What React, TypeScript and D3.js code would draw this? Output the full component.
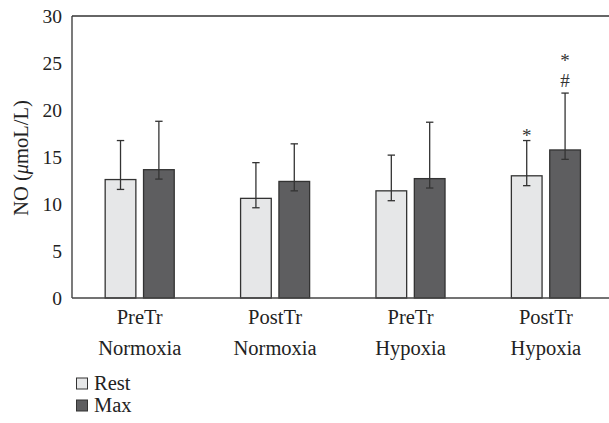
import React from "react";
import * as d3 from "d3";

const categories = [["PreTr", "Normoxia"], ["PostTr", "Normoxia"], ["PreTr", "Hypoxia"], ["PostTr", "Hypoxia"]];
const seriesNames = ["Rest", "Max"];
const restValues = [12.6, 10.6, 11.4, 13.0];
const restUpper = [16.75, 14.4, 15.2, 16.75];
const restLower = [11.55, 9.6, 10.35, 11.95];
const maxValues = [13.65, 12.4, 12.7, 15.75];
const maxUpper = [18.8, 16.4, 18.7, 21.8];
const maxLower = [12.65, 11.4, 11.7, 14.75];
const restMarks = ["", "", "", "*"];
const maxMarks = [[], [], [], ["*", "#"]];
const yTicks = [0, 5, 10, 15, 20, 25, 30];

const W = 609, H = 423;
const left = 72, right = 613.6, top = 16, bottom = 298;
const colors = ["#e6e7e8", "#5e5e60"];
const font = "'Liberation Serif', 'DejaVu Serif', serif";

export default function App() {
  const y = d3.scaleLinear().domain([0, 30]).range([bottom, top]);
  const x0 = d3.scaleBand().domain(categories.map((_, i) => String(i))).range([left, right]).paddingInner(0.49).paddingOuter(0.245);
  const x1 = d3.scaleBand().domain(seriesNames).range([0, x0.bandwidth()]).paddingInner(0.2);
  const series = [
    { vals: restValues, up: restUpper, lo: restLower },
    { vals: maxValues, up: maxUpper, lo: maxLower },
  ];
  return (
    <svg width={W} height={H} style={{ position: "absolute", left: 0, top: 0, background: "#fff", fontFamily: font }}>
      {yTicks.map((t) => (
        <text key={t} x={62} y={y(t)} dy="0.35em" textAnchor="end" fontSize={19.5} fill="#222">{t}</text>
      ))}
      <text transform={`translate(28,${(top + bottom) / 2 + 1}) rotate(-90)`} textAnchor="middle" fontSize={20.5} fill="#222">
        NO (<tspan fontStyle="italic">μ</tspan>moL/L)
      </text>
      {categories.map((c, i) => {
        const bx = x0(String(i))!;
        return (
          <g key={i}>
            {series.map((s, j) => {
              const xx = bx + x1(seriesNames[j])!;
              const bw = x1.bandwidth();
              const cx = xx + bw / 2;
              return (
                <g key={j}>
                  <rect x={xx} y={y(s.vals[i])} width={bw} height={y(0) - y(s.vals[i])} fill={colors[j]} stroke="#333" strokeWidth={1.3} />
                  <line x1={cx} x2={cx} y1={y(s.up[i])} y2={y(s.lo[i])} stroke="#333" strokeWidth={1.3} />
                  <line x1={cx - 3.7} x2={cx + 3.7} y1={y(s.up[i])} y2={y(s.up[i])} stroke="#333" strokeWidth={1.3} />
                  <line x1={cx - 3.7} x2={cx + 3.7} y1={y(s.lo[i])} y2={y(s.lo[i])} stroke="#333" strokeWidth={1.3} />
                </g>
              );
            })}
            {restMarks[i] && (
              <text x={bx + x1("Rest")! + x1.bandwidth() / 2} y={y(restUpper[i]) + 1} textAnchor="middle" fontSize={19} fill="#333">{restMarks[i]}</text>
            )}
            {maxMarks[i].map((m, k, arr) => (
              <text key={k} x={bx + x1("Max")! + x1.bandwidth() / 2} y={y(maxUpper[i]) - 6 - (arr.length - 1 - k) * 21 + (m === "*" ? 1 : 0)} textAnchor="middle" fontSize={19} fill="#333">{m}</text>
            ))}
            <text x={bx + x0.bandwidth() / 2} y={324} textAnchor="middle" fontSize={20.5} fill="#222">{c[0]}</text>
            <text x={bx + x0.bandwidth() / 2} y={355} textAnchor="middle" fontSize={20.5} fill="#222">{c[1]}</text>
          </g>
        );
      })}
      <line x1={left} x2={W} y1={top} y2={top} stroke="#333" strokeWidth={1.3} />
      <line x1={left} x2={left} y1={top} y2={bottom} stroke="#333" strokeWidth={1.3} />
      <line x1={left} x2={W} y1={bottom} y2={bottom} stroke="#444" strokeWidth={1.3} />
      {seriesNames.map((n, j) => (
        <g key={n}>
          <rect x={76.5} y={378 + j * 22} width={11} height={11} fill={colors[j]} stroke="#333" strokeWidth={1} />
          <text x={94} y={390 + j * 22} fontSize={20.5} fill="#222">{n}</text>
        </g>
      ))}
    </svg>
  );
}
